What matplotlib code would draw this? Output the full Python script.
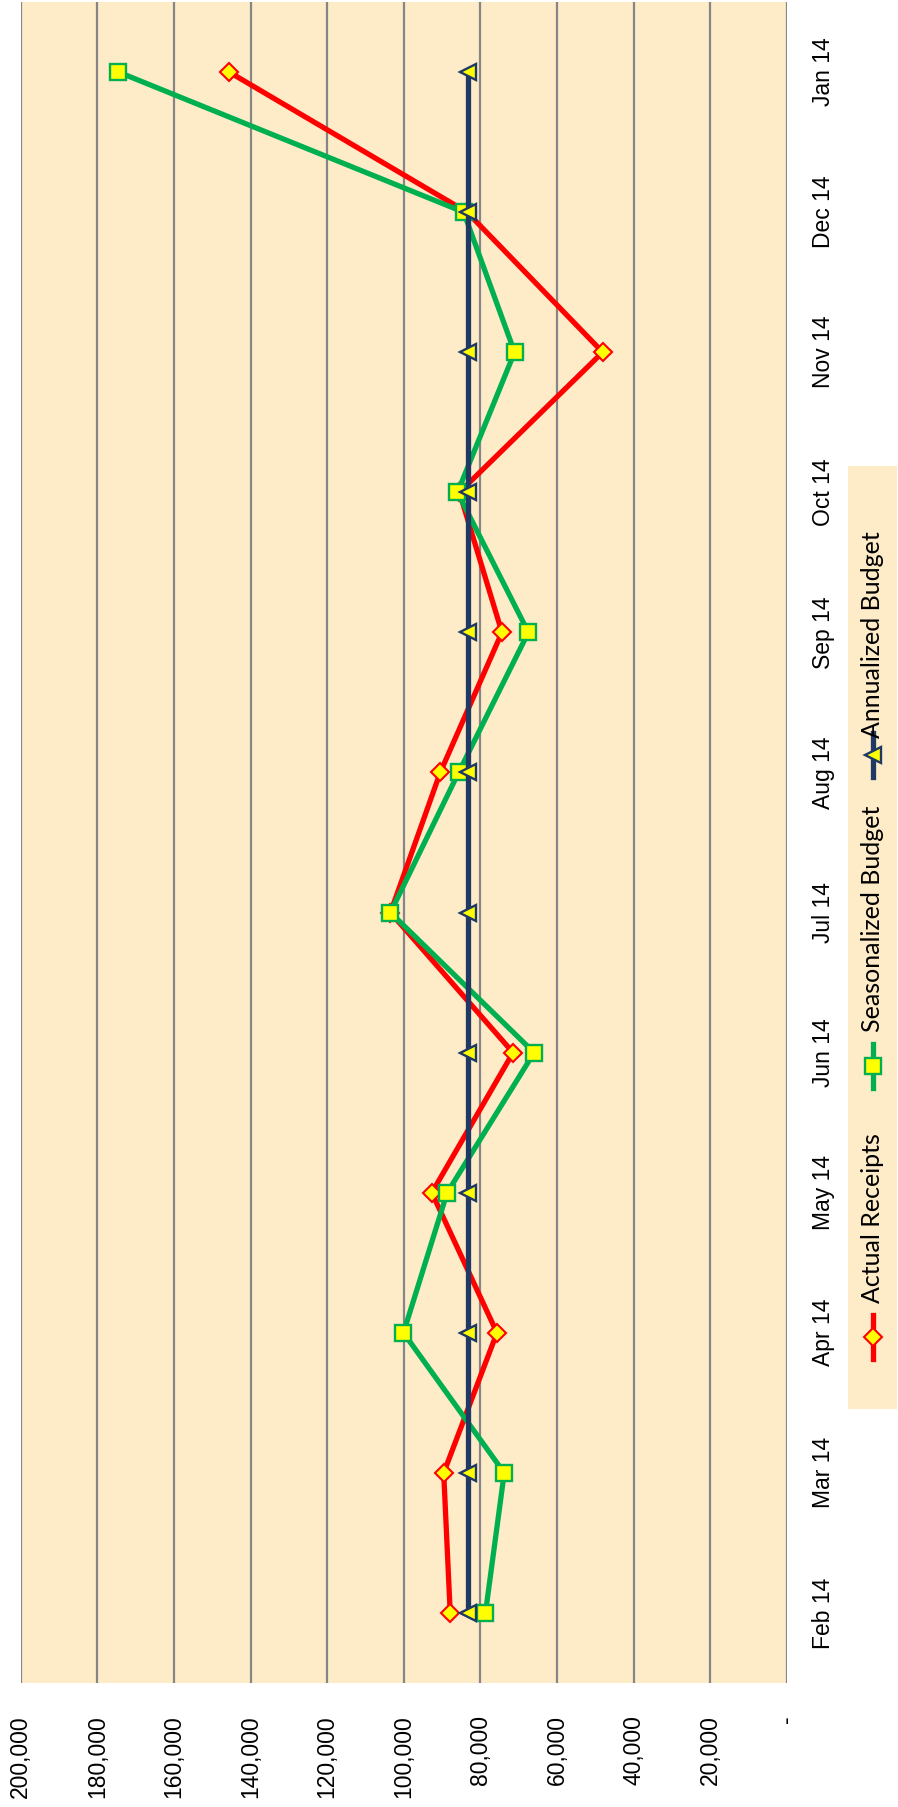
import matplotlib
matplotlib.use("Agg")
import matplotlib.pyplot as plt
from matplotlib.lines import Line2D
from matplotlib.patches import Rectangle

# ---- data ----
months = ["Feb 14", "Mar 14", "Apr 14", "May 14", "Jun 14", "Jul 14",
          "Aug 14", "Sep 14", "Oct 14", "Nov 14", "Dec 14", "Jan 14"]
actual_receipts = [87900, 89600, 75700, 92700, 71500, 103500,
                   90500, 74400, 85500, 48100, 83500, 145600]
seasonalized_budget = [78700, 73800, 100100, 88700, 66000, 103500,
                       85700, 67500, 86000, 71100, 84400, 174500]
annualized_budget = [83333] * 12
value_ticks = [0, 20000, 40000, 60000, 80000, 100000, 120000, 140000,
               160000, 180000, 200000]
value_tick_labels = ["-", "20,000", "40,000", "60,000", "80,000", "100,000",
                     "120,000", "140,000", "160,000", "180,000", "200,000"]
legend_labels = ["Actual Receipts", "Seasonalized Budget", "Annualized Budget"]

# ---- styling ----
W, H = 898, 1807
BG = "#FEEBC8"
RED, GREEN, NAVY, YEL = "#FF0000", "#00B050", "#1F3864", "#FFFF00"
GRID = "#868686"

def fx(px):
    return px / W

def fy(py):
    return 1 - py / H

fig = plt.figure(figsize=(W / 100, H / 100), dpi=100)
fig.patch.set_facecolor("white")

left, right, top, bottom = 20.7, 787, 2, 1683
ax = fig.add_axes([fx(left), fy(bottom), fx(right - left), (bottom - top) / H])
ax.set_facecolor(BG)

y_idx = list(range(len(months)))

styles = [
    dict(color=RED, marker="D", ms=9, mfc=YEL, mec=RED, mew=1.5),
    dict(color=GREEN, marker="s", ms=12, mfc=YEL, mec=GREEN, mew=1.7),
    dict(color=NAVY, marker="<", ms=12, mfc=YEL, mec=NAVY, mew=1.7),
]
series = [actual_receipts, seasonalized_budget, annualized_budget]
zorders = [3, 4, 5]
for vals, st, z in zip(series, styles, zorders):
    ax.plot(vals, y_idx, lw=3.8, solid_joinstyle="miter", zorder=z,
            clip_on=False, **st)

ax.set_xlim(200000, 0)
ax.set_ylim(-0.5, 11.5)

ax.set_xticks(value_ticks)
ax.set_xticklabels(value_tick_labels, rotation=90, fontsize=16.5,
                   family=["Liberation Sans", "DejaVu Sans"])
ax.tick_params(axis="x", length=0, pad=23)
ax.xaxis.grid(True, color=GRID, lw=1.6, zorder=1)
ax.set_axisbelow(True)

ax.yaxis.tick_right()
ax.set_yticks(y_idx)
ax.set_yticklabels(months, rotation=90, fontsize=16.5,
                   family=["Liberation Sans", "DejaVu Sans"], va="center")
ax.tick_params(axis="y", length=0, pad=18)

for s in ax.spines.values():
    s.set_visible(False)

# ---- legend (rotated, drawn manually) ----
fig.patches.append(Rectangle((fx(848), fy(1409)), fx(897 - 848),
                             (1409 - 466) / H, transform=fig.transFigure,
                             facecolor=BG, edgecolor="none", zorder=0))
leg_marker_y = [1337, 1066, 755]
leg_text_bottom = [1303, 1032, 738]
xc = 873
for lab, st, my, tb in zip(legend_labels, styles, leg_marker_y, leg_text_bottom):
    fig.add_artist(Line2D([fx(xc), fx(xc)], [fy(my + 22), fy(my - 22)],
                          transform=fig.transFigure, color=st["color"],
                          lw=3.8, zorder=3))
    fig.add_artist(Line2D([fx(xc)], [fy(my)], transform=fig.transFigure,
                          marker=st["marker"], ms=st["ms"], mfc=YEL,
                          mec=st["mec"], mew=st["mew"], lw=0, zorder=4))
    fig.text(fx(xc), fy(tb), lab, rotation=90, ha="center", va="bottom",
             fontsize=18, family=["Lato", "DejaVu Sans"], color="black")

fig.savefig("out.png", dpi=100, facecolor="white")
